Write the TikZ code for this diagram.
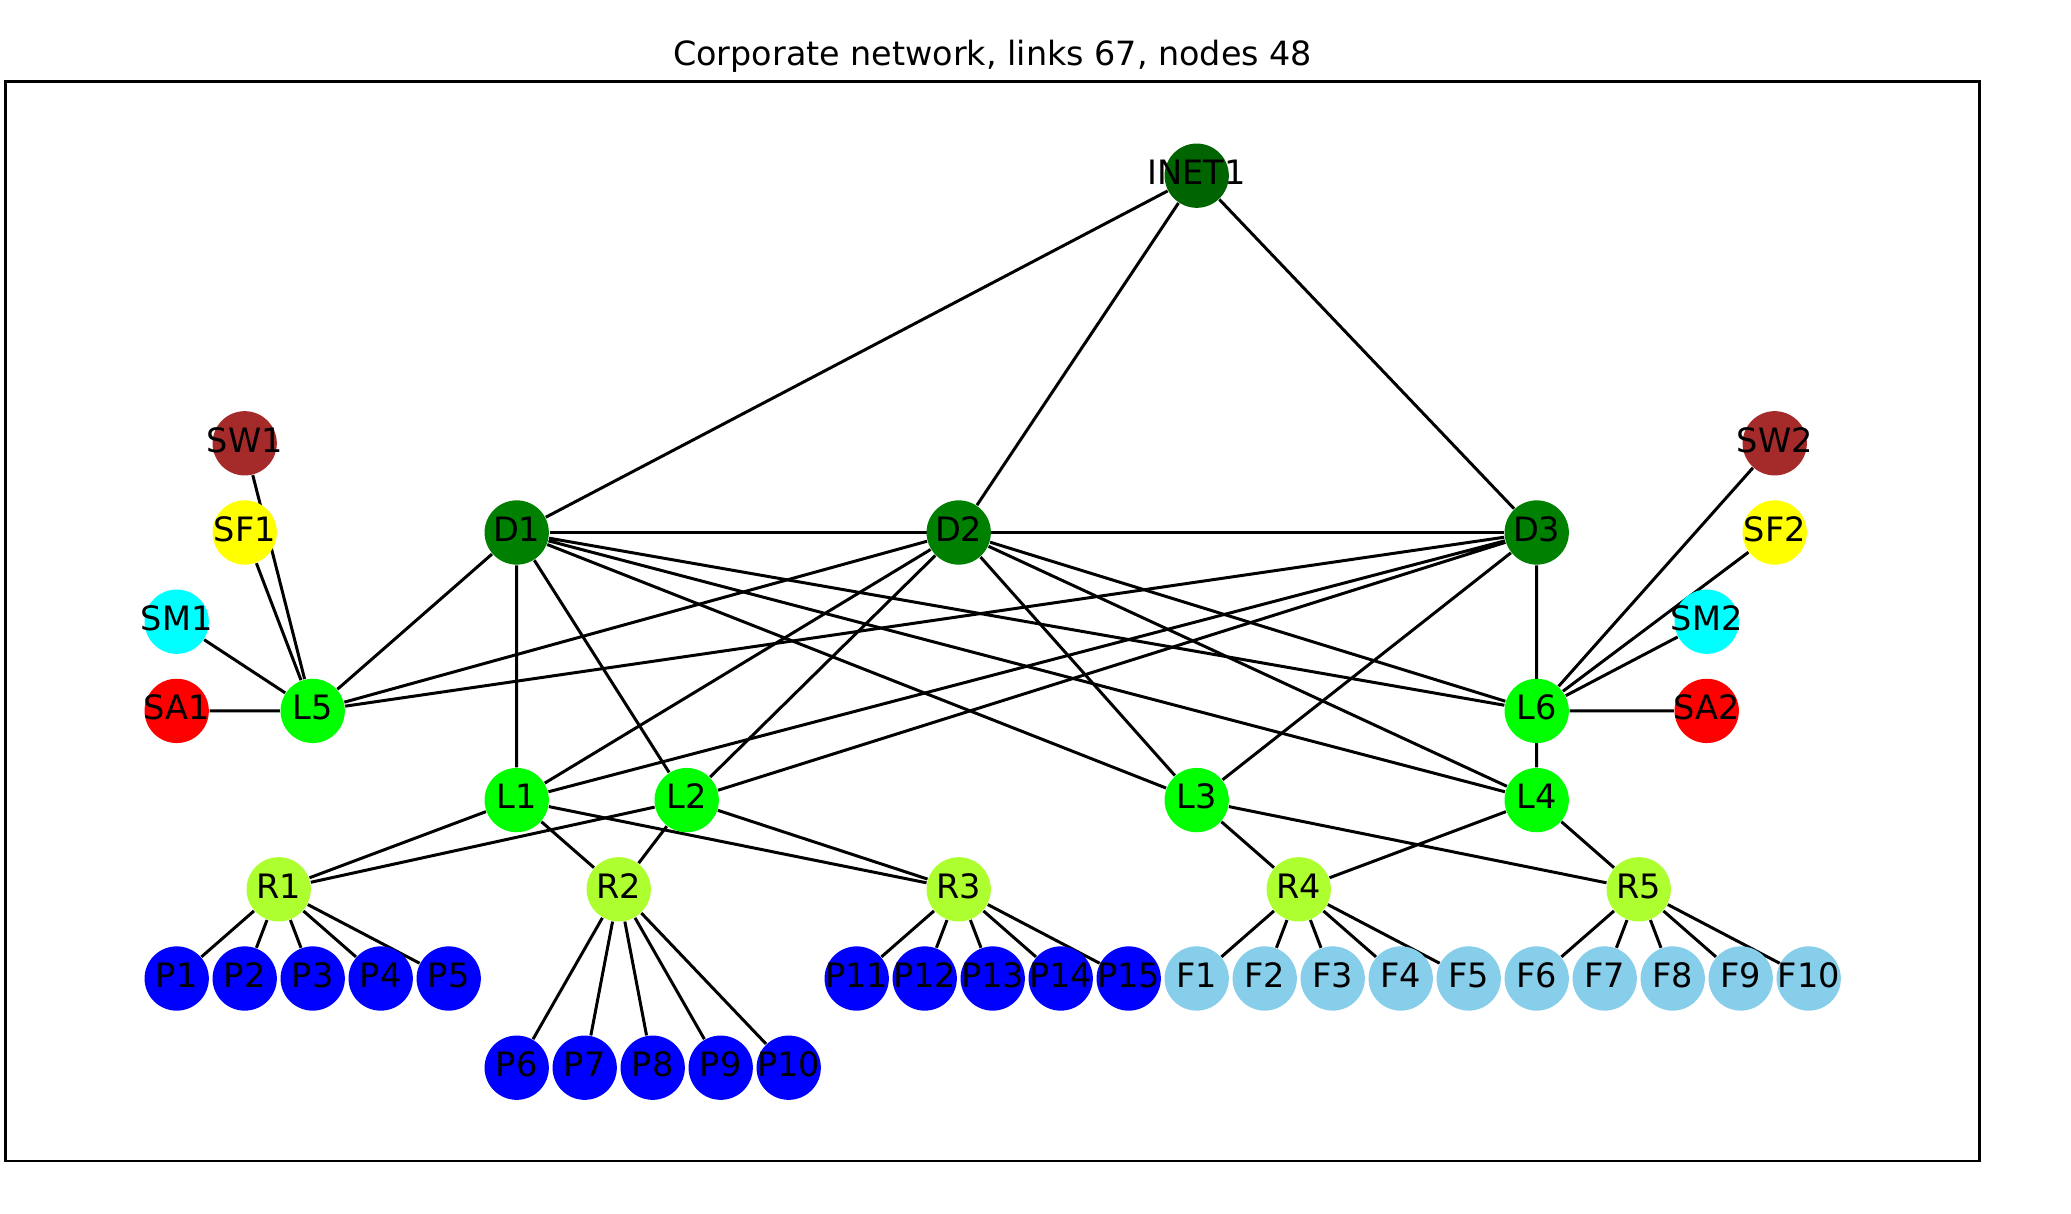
\documentclass[tikz,border=0pt]{standalone}
\usepackage{fontspec}
\setmainfont{DejaVu Sans}
\usetikzlibrary{backgrounds}
\definecolor{inet}{RGB}{0,100,0}
\definecolor{dgruen}{RGB}{0,128,0}
\definecolor{lgruen}{RGB}{0,255,0}
\definecolor{rgruen}{RGB}{173,255,47}
\definecolor{pblau}{RGB}{0,0,255}
\definecolor{fblau}{RGB}{135,206,235}
\definecolor{swbraun}{RGB}{165,42,42}
\definecolor{sfgelb}{RGB}{255,255,0}
\definecolor{smcyan}{RGB}{0,255,255}
\definecolor{sarot}{RGB}{255,0,0}
\newcommand{\nlab}[1]{\makebox[0pt]{#1}}
\tikzset{knoten/.style={circle, inner sep=0pt, minimum size=6.43mm, fill=#1,
    text height=2.55mm, text depth=0.8mm, font=\fontsize{9.55}{12}\selectfont},
  kante/.style={line width=0.85pt}}

\begin{document}
\begin{tikzpicture}[x=6.8mm,y=-8.92mm] %D dunkelgruen, L hellgruen, R gelbgruen
	\useasboundingbox (-2.5985,-1.9697) rectangle (27.857,11.640);
	\draw[line width=0.75pt] (-2.513,-1.0538) rectangle (26.515,11.046);
	\node[anchor=base, font=\fontsize{9.5}{12}\selectfont] (titel) at (12,-1.23) {Corporate network, links 67, nodes 48};
	\node[knoten=inet] (INET1) at (15,0) {\nlab{INET1}};
	\node[knoten=dgruen] (D1) at (5,4) {\nlab{D1}};
	\node[knoten=dgruen] (D2) at (11.5,4) {\nlab{D2}};
	\node[knoten=dgruen] (D3) at (20,4) {\nlab{D3}};
	\node[knoten=swbraun] (SW1) at (1,3) {\nlab{SW1}};
	\node[knoten=sfgelb] (SF1) at (1,4) {\nlab{SF1}};
	\node[knoten=smcyan] (SM1) at (0,5) {\nlab{SM1}};
	\node[knoten=sarot] (SA1) at (0,6) {\nlab{SA1}};
	\node[knoten=lgruen] (L5) at (2,6) {\nlab{L5}};
	\node[knoten=swbraun] (SW2) at (23.5,3) {\nlab{SW2}};
	\node[knoten=sfgelb] (SF2) at (23.5,4) {\nlab{SF2}};
	\node[knoten=smcyan] (SM2) at (22.5,5) {\nlab{SM2}};
	\node[knoten=sarot] (SA2) at (22.5,6) {\nlab{SA2}};
	\node[knoten=lgruen] (L6) at (20,6) {\nlab{L6}};
	\node[knoten=lgruen] (L1) at (5,7) {\nlab{L1}};
	\node[knoten=lgruen] (L2) at (7.5,7) {\nlab{L2}};
	\node[knoten=lgruen] (L3) at (15,7) {\nlab{L3}};
	\node[knoten=lgruen] (L4) at (20,7) {\nlab{L4}};
	\node[knoten=rgruen] (R1) at (1.5,8) {\nlab{R1}};
	\node[knoten=rgruen] (R2) at (6.5,8) {\nlab{R2}};
	\node[knoten=rgruen] (R3) at (11.5,8) {\nlab{R3}};
	\node[knoten=rgruen] (R4) at (16.5,8) {\nlab{R4}};
	\node[knoten=rgruen] (R5) at (21.5,8) {\nlab{R5}};
	\node[knoten=pblau] (P1) at (0,9) {\nlab{P1}};
	\node[knoten=pblau] (P2) at (1,9) {\nlab{P2}};
	\node[knoten=pblau] (P3) at (2,9) {\nlab{P3}};
	\node[knoten=pblau] (P4) at (3,9) {\nlab{P4}};
	\node[knoten=pblau] (P5) at (4,9) {\nlab{P5}};
	\node[knoten=pblau] (P6) at (5,10) {\nlab{P6}};
	\node[knoten=pblau] (P7) at (6,10) {\nlab{P7}};
	\node[knoten=pblau] (P8) at (7,10) {\nlab{P8}};
	\node[knoten=pblau] (P9) at (8,10) {\nlab{P9}};
	\node[knoten=pblau] (P10) at (9,10) {\nlab{P10}};
	\node[knoten=pblau] (P11) at (10,9) {\nlab{P11}};
	\node[knoten=pblau] (P12) at (11,9) {\nlab{P12}};
	\node[knoten=pblau] (P13) at (12,9) {\nlab{P13}};
	\node[knoten=pblau] (P14) at (13,9) {\nlab{P14}};
	\node[knoten=pblau] (P15) at (14,9) {\nlab{P15}};
	\node[knoten=fblau] (F1) at (15,9) {\nlab{F1}};
	\node[knoten=fblau] (F2) at (16,9) {\nlab{F2}};
	\node[knoten=fblau] (F3) at (17,9) {\nlab{F3}};
	\node[knoten=fblau] (F4) at (18,9) {\nlab{F4}};
	\node[knoten=fblau] (F5) at (19,9) {\nlab{F5}};
	\node[knoten=fblau] (F6) at (20,9) {\nlab{F6}};
	\node[knoten=fblau] (F7) at (21,9) {\nlab{F7}};
	\node[knoten=fblau] (F8) at (22,9) {\nlab{F8}};
	\node[knoten=fblau] (F9) at (23,9) {\nlab{F9}};
	\node[knoten=fblau] (F10) at (24,9) {\nlab{F10}};
	
	\begin{scope}[on background layer]
	\draw[kante] (INET1) -- (D1) (INET1) -- (D2) (INET1) -- (D3);
	\draw[kante] (D1) -- (D2) (D2) -- (D3) (D1) -- (D3);
	\draw[kante] (D1) -- (L1) (D1) -- (L2) (D1) -- (L3) (D1) -- (L4) (D1) -- (L5) (D1) -- (L6);
	\draw[kante] (D2) -- (L1) (D2) -- (L2) (D2) -- (L3) (D2) -- (L4) (D2) -- (L5) (D2) -- (L6);
	\draw[kante] (D3) -- (L1) (D3) -- (L2) (D3) -- (L3) (D3) -- (L4) (D3) -- (L5) (D3) -- (L6);
	\draw[kante] (SW1) -- (L5) (SF1) -- (L5) (SM1) -- (L5) (SA1) -- (L5);
	\draw[kante] (SW2) -- (L6) (SF2) -- (L6) (SM2) -- (L6) (SA2) -- (L6);
	\draw[kante] (L1) -- (R1) (L1) -- (R2) (L1) -- (R3);
	\draw[kante] (L2) -- (R1) (L2) -- (R2) (L2) -- (R3);
	\draw[kante] (L3) -- (R4) (L3) -- (R5) (L4) -- (R4) (L4) -- (R5);
	\draw[kante] (R1) -- (P1) (R1) -- (P2) (R1) -- (P3) (R1) -- (P4) (R1) -- (P5);
	\draw[kante] (R2) -- (P6) (R2) -- (P7) (R2) -- (P8) (R2) -- (P9) (R2) -- (P10);
	\draw[kante] (R3) -- (P11) (R3) -- (P12) (R3) -- (P13) (R3) -- (P14) (R3) -- (P15);
	\draw[kante] (R4) -- (F1) (R4) -- (F2) (R4) -- (F3) (R4) -- (F4) (R4) -- (F5);
	\draw[kante] (R5) -- (F6) (R5) -- (F7) (R5) -- (F8) (R5) -- (F9) (R5) -- (F10);
	\end{scope}
\end{tikzpicture}
\end{document}
